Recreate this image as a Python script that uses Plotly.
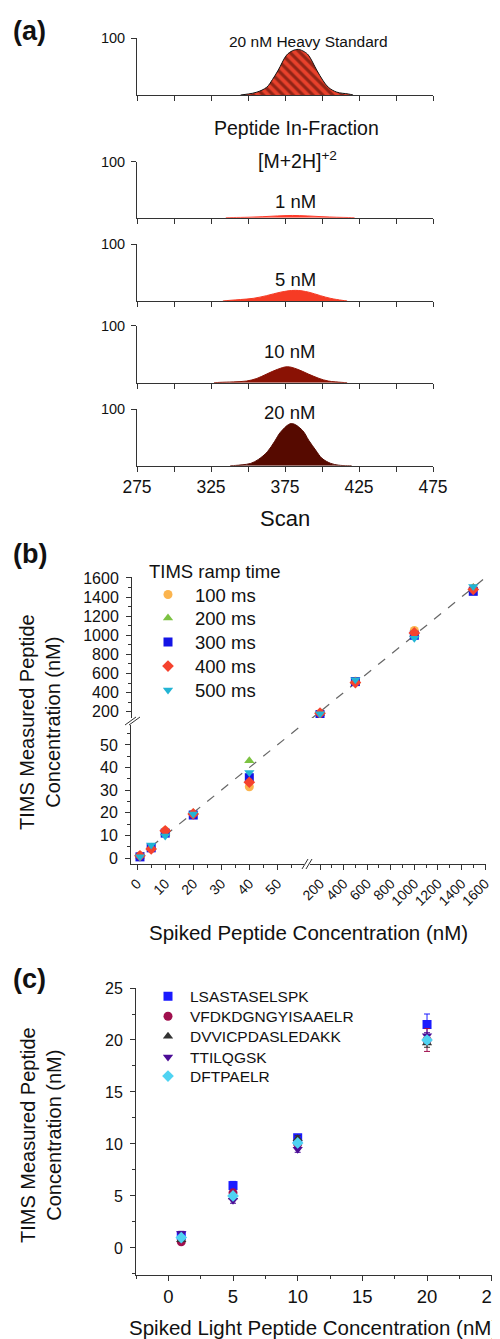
import plotly.graph_objects as go

# page is rendered with an 8px body margin, so the figure is sized to fit inside the window
OFF = 8
W, H = 500 - OFF, 1339 - OFF
FONT = "Arial, Liberation Sans, sans-serif"
AX = "#333333"

# ---------------- Panel (a) data: extracted ion mobility peaks ----------------
heavy_scan = [345, 350.2, 356, 362.6, 366.5, 370.5, 376.1, 380, 384, 388, 390.8, 396.4, 400.5, 404.3, 410, 417.8, 421]
heavy_int = [0, 1.8, 5, 13.5, 27, 43.9, 70, 77.5, 80, 76, 70, 43.9, 26, 13.5, 5, 1.8, 0]

nm1_scan = [335, 340, 350, 360, 370, 380, 390, 400, 410, 418, 422]
nm1_int = [0, 0.3, 0.8, 1.8, 3.2, 4.0, 3.2, 1.8, 0.8, 0.3, 0]

nm5_scan = [333, 337.8, 345, 353.6, 362.6, 372, 382, 391, 398.9, 406, 413.6, 417]
nm5_int = [0, 1.2, 2.6, 4.7, 9.4, 15.5, 18.7, 15.5, 9.4, 4.5, 1.2, 0]

nm10_scan = [327, 331, 340, 349, 356, 362.6, 370, 376.6, 383, 390.8, 398, 404.3, 413.4, 417]
nm10_int = [0, 0.6, 1.4, 2.9, 7.5, 15.2, 23.5, 28, 24, 15.2, 7.5, 2.9, 0.6, 0]

nm20_scan = [338, 341.7, 346, 351.9, 357, 363.1, 368, 372.1, 379.3, 386.7, 391, 395.7, 400, 405.9, 411, 417.1, 420]
nm20_int = [0, 0.5, 1.5, 4.1, 11, 24.6, 43, 59.6, 74.3, 62.6, 45, 27.5, 13, 4.1, 1, 0, 0]

peak_labels = ["20 nM Heavy Standard", "1 nM", "5 nM", "10 nM", "20 nM"]
scan_ticks = [275, 300, 325, 350, 375, 400, 425, 450, 475]
scan_ticktext = ["275", " ", "325", " ", "375", " ", "425", " ", "475"]

# ---------------- Panel (b) data ----------------
spiked_low = [1, 5, 10, 20, 40]
spiked_high = [200, 500, 1000, 1500]
ramp_names = ["100 ms", "200 ms", "300 ms", "400 ms", "500 ms"]
ramp_low = [
    [1.0, 4.5, 12.0, 19.5, 31.5],
    [0.8, 4.8, 11.0, 20.0, 43.0],
    [0.5, 4.5, 11.0, 19.0, 35.5],
    [1.0, 4.0, 12.0, 19.5, 33.5],
    [0.5, 5.8, 9.7, 19.5, 37.8],
]
ramp_high = [
    [180, 520, 1050, 1490],
    [178, 515, 1010, 1500],
    [170, 515, 1000, 1460],
    [185, 505, 1025, 1480],
    [178, 535, 970, 1510],
]
ramp_colors = ["#fbb44e", "#7cc242", "#1414e6", "#f5422e", "#22b4d4"]
ramp_symbols = ["circle", "triangle-up", "square", "diamond", "triangle-down"]
low_ticks = [0, 10, 20, 30, 40, 50]
high_ticks = [200, 400, 600, 800, 1000, 1200, 1400, 1600]
ylow_ticks = [0, 10, 20, 30, 40, 50]
yhigh_ticks = [200, 400, 600, 800, 1000, 1200, 1400, 1600]
ident_low = [-5, 62]
ident_high = [100, 1620]

# ---------------- Panel (c) data ----------------
spiked_light = [1, 5, 10, 20]
pep_names = ["LSASTASELSPK", "VFDKDGNGYISAAELR", "DVVICPDASLEDAKK", "TTILQGSK", "DFTPAELR"]
pep_vals = [
    [1.2, 6.0, 10.6, 21.5],
    [0.6, 5.3, 10.0, 20.0],
    [0.8, 4.9, 10.5, 19.7],
    [1.4, 4.6, 9.5, 20.4],
    [1.0, 5.0, 10.1, 20.0],
]
pep_err = [
    [0.3, 0.4, 0.3, 1.0],
    [0.2, 0.3, 0.4, 1.1],
    [0.2, 0.2, 0.3, 0.4],
    [0.2, 0.3, 0.3, 0.3],
    [0.2, 0.2, 0.2, 0.3],
]
pep_colors = ["#1a1aff", "#a0104e", "#333333", "#4b0c96", "#4fd3f2"]
pep_symbols = ["square", "circle", "triangle-up", "triangle-down", "diamond"]


def px(x):
    return (x - OFF) / W


def py(y):
    return 1 - (y - OFF) / H


def xd(l, r):
    return [px(l), px(r)]


def yd(top, bot):
    return [py(bot), py(top)]


fig = go.Figure()
layout = dict(
    width=W, height=H, margin=dict(l=0, r=0, t=0, b=0, autoexpand=False),
    paper_bgcolor="white", plot_bgcolor="white",
    font=dict(family=FONT, color="#111111"),
)
base_axis = dict(showline=True, linecolor=AX, linewidth=1, ticks="outside", ticklen=5,
                 tickcolor=AX, tickwidth=1, showgrid=False, zeroline=False, automargin=False)

# ----- Panel (a)
a_rows = [(38, 95), (161.7, 217.7), (244, 301), (325.7, 382.7), (409, 465.7)]
a_data = [(heavy_scan, heavy_int), (nm1_scan, nm1_int), (nm5_scan, nm5_int),
          (nm10_scan, nm10_int), (nm20_scan, nm20_int)]
a_colors = ["#e8412c", "#ff3b2a", "#f63b24", "#8a1204", "#560a00"]
for i, ((top, bot), (sx, sy), col) in enumerate(zip(a_rows, a_data, a_colors), start=1):
    sfx = "" if i == 1 else str(i)
    layout["xaxis" + sfx] = dict(base_axis, domain=xd(137, 433), range=[275, 475], anchor="y" + sfx,
                                 tickvals=scan_ticks, ticktext=scan_ticktext,
                                 showticklabels=(i == 5), tickfont=dict(size=17.5))
    layout["yaxis" + sfx] = dict(base_axis, domain=yd(top, bot), range=[0, 100], anchor="x" + sfx,
                                 tickvals=[100], ticktext=["100"], tickfont=dict(size=14.5),
                                 ticklabelstandoff=3)
    tr = dict(x=sx, y=sy, mode="lines", fill="tozeroy",
              xaxis="x" + sfx, yaxis="y" + sfx, showlegend=False, hoverinfo="skip")
    if i == 1:
        tr["line"] = dict(color="#111111", width=1, shape="spline")
        tr["fillpattern"] = dict(shape="\\", bgcolor=col, fgcolor="#3a0800", size=7, solidity=0.45)
    else:
        tr["line"] = dict(color=col, width=1, shape="spline")
        tr["fillcolor"] = col
    fig.add_trace(go.Scatter(**tr))

# ----- Panel (b)
minor_b = dict(ticklen=3, tickcolor=AX, ticks="outside")
layout["xaxis6"] = dict(base_axis, domain=xd(131, 304), range=[-2.2, 59.5], anchor="y6",
                        tickvals=low_ticks, tickangle=-45, tickfont=dict(size=14),
                        minor=dict(minor_b, dtick=5))
layout["yaxis6"] = dict(base_axis, domain=yd(725, 864), range=[-2.65, 58.8], anchor="x6",
                        tickvals=ylow_ticks, tickfont=dict(size=16), ticklabelstandoff=4,
                        minor=dict(minor_b, dtick=5))
layout["xaxis7"] = dict(base_axis, domain=xd(310, 486), range=[115, 1608], anchor="free",
                        position=py(864), tickvals=high_ticks, tickangle=-45,
                        tickfont=dict(size=14), ticklabeloverflow="allow",
                        minor=dict(minor_b, dtick=100, tick0=0))
layout["yaxis7"] = dict(base_axis, domain=yd(577, 718), range=[134, 1610], anchor="free",
                        position=px(131), tickvals=yhigh_ticks, tickfont=dict(size=16),
                        ticklabelstandoff=4, minor=dict(minor_b, dtick=100, tick0=0))

fig.add_trace(go.Scatter(x=ident_low, y=ident_low, mode="lines", xaxis="x6", yaxis="y6",
                         line=dict(color="#666666", width=1.2, dash="dash"),
                         showlegend=False, hoverinfo="skip"))
fig.add_trace(go.Scatter(x=ident_high, y=ident_high, mode="lines", xaxis="x7", yaxis="y7",
                         line=dict(color="#666666", width=1.2, dash="dash"),
                         showlegend=False, hoverinfo="skip"))

b_legends = ["legend", "legend3", "legend4", "legend5", "legend6"]
b_leg_y = [595, 618.5, 642.5, 666.5, 690.5]
for name, lo, hi, col, sym, lg in zip(ramp_names, ramp_low, ramp_high, ramp_colors, ramp_symbols, b_legends):
    fig.add_trace(go.Scatter(x=spiked_low, y=lo, mode="markers", name=name, xaxis="x6", yaxis="y6",
                             marker=dict(color=col, symbol=sym, size=9), legend=lg,
                             legendgroup=name))
    fig.add_trace(go.Scatter(x=spiked_high, y=hi, mode="markers", name=name, xaxis="x7", yaxis="y7",
                             marker=dict(color=col, symbol=sym, size=9), legend=lg,
                             legendgroup=name, showlegend=False))
for lg, yy in zip(b_legends, b_leg_y):
    layout[lg] = dict(x=px(141), y=py(yy), xanchor="left", yanchor="middle",
                      bgcolor="rgba(0,0,0,0)", borderwidth=0, itemwidth=44, tracegroupgap=0,
                      font=dict(size=18.5, family=FONT, color="#111111"))

# ----- Panel (c)
layout["xaxis8"] = dict(base_axis, domain=xd(136, 491.7), range=[-2.5, 25], anchor="y8",
                        tickvals=[0, 5, 10, 15, 20, 25], tickfont=dict(size=18.5),
                        ticklabeloverflow="allow",
                        minor=dict(minor_b, dtick=2.5, tick0=0))
layout["yaxis8"] = dict(base_axis, domain=yd(988, 1275), range=[-2.6, 25], anchor="x8",
                        tickvals=[0, 5, 10, 15, 20, 25], tickfont=dict(size=16),
                        ticklabelstandoff=4, minor=dict(minor_b, dtick=2.5, tick0=0))
c_legends = ["legend2", "legend7", "legend8", "legend9", "legend10"]
c_leg_y = [996.7, 1016.7, 1036.7, 1057.5, 1076.5]
for name, vals, err, col, sym, lg in zip(pep_names, pep_vals, pep_err, pep_colors, pep_symbols, c_legends):
    fig.add_trace(go.Scatter(x=spiked_light, y=vals, mode="markers", name=name, xaxis="x8", yaxis="y8",
                             marker=dict(color=col, symbol=sym, size=9),
                             error_y=dict(type="data", array=err, color=col, thickness=1, width=3),
                             legend=lg))
for lg, yy in zip(c_legends, c_leg_y):
    layout[lg] = dict(x=px(146), y=py(yy), xanchor="left", yanchor="middle",
                      bgcolor="rgba(0,0,0,0)", borderwidth=0, itemwidth=34, tracegroupgap=0,
                      font=dict(size=15.5, family=FONT, color="#111111"))

# ----- Text annotations
ann = []


def add_text(text, x, y, size, bold=False, angle=0, xanchor="center"):
    ann.append(dict(text=("<b>%s</b>" % text) if bold else text, x=px(x), y=py(y),
                    xref="paper", yref="paper", showarrow=False, xanchor=xanchor, yanchor="middle",
                    textangle=angle, font=dict(size=size, family=FONT, color="#111111")))


add_text("(a)", 11, 31, 27, bold=True, xanchor="left")
add_text("(b)", 11, 554, 27, bold=True, xanchor="left")
add_text("(c)", 11, 979, 27, bold=True, xanchor="left")
add_text(peak_labels[0], 308, 41, 15.5)
add_text("Peptide In-Fraction", 296, 128, 19.5)
add_text("[M+2H]<sup>+2</sup>", 297, 160, 19.5)
add_text(peak_labels[1], 295, 201, 18.5)
add_text(peak_labels[2], 295, 279, 18.5)
add_text(peak_labels[3], 289, 351, 18.5)
add_text(peak_labels[4], 289, 412, 18.5)
add_text("Scan", 285, 519, 22)
add_text("TIMS ramp time", 147, 571, 18.5, xanchor="left")
add_text("TIMS Measured Peptide<br>Concentration (nM)", 40, 722, 20, angle=-90)
add_text("Spiked Peptide Concentration (nM)", 308, 932, 20.5)
add_text("TIMS Measured Peptide<br>Concentration (nM)", 41, 1135, 20, angle=-90)
add_text("Spiked Light Peptide Concentration (nM)", 313, 1327, 20.5)
layout["annotations"] = ann

# ----- Axis break marks
shapes = []
for dx in (0, 4):
    shapes.append(dict(type="line", xref="paper", yref="paper",
                       x0=px(125 + dx), y0=py(725), x1=px(136 + dx), y1=py(717),
                       line=dict(color=AX, width=1)))
for dx in (0, 4):
    shapes.append(dict(type="line", xref="paper", yref="paper",
                       x0=px(302 + dx), y0=py(869), x1=px(308 + dx), y1=py(859),
                       line=dict(color=AX, width=1)))
layout["shapes"] = shapes

fig.update_layout(**layout)
fig.write_html("out.html")
